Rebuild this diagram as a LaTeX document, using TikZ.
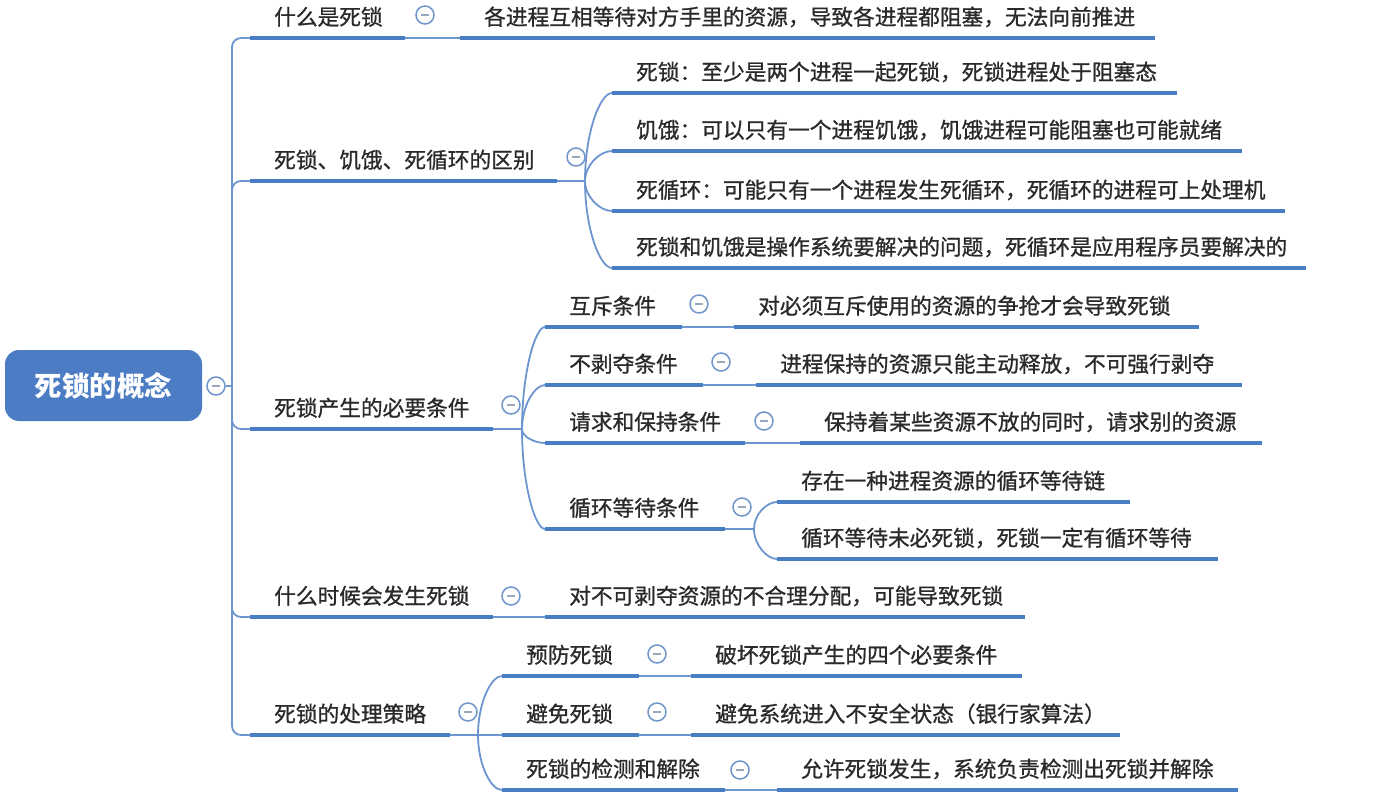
\documentclass[tikz,border=0pt]{standalone}
\usepackage{fontspec}
\newfontfamily\cjk{Noto Sans CJK SC}
\newfontfamily\cjkm{Noto Sans CJK SC}[FakeBold=0.9]
\definecolor{ublue}{HTML}{4A7EC4}
\definecolor{cblue}{HTML}{6D95CF}
\definecolor{rootblue}{HTML}{4C7DC4}
\definecolor{fblue}{HTML}{7096CC}
\definecolor{fgray}{HTML}{9AA8BE}
\definecolor{txt}{HTML}{2A2A2A}
\newcommand\mtopic[5]{%
  \coordinate (#1a) at (#2,#4);
  \coordinate (#1b) at (#3,#4);
  \draw[uline] (#1a) -- (#1b);
  \node[topic] (#1) at (#2+24,#4-13) {#5};
}
\begin{document}
\begin{tikzpicture}[x=1pt,y=-1pt,
  uline/.style={draw=ublue, line width=4.8pt},
  conn/.style={draw=cblue, line width=1.8pt},
  topic/.style={anchor=base west, inner sep=0pt, text=txt, font=\cjkm\fontsize{21.7}{26}\selectfont},
  fold/.style={circle, draw=fblue, line width=1.5pt, fill=white, minimum size=18pt, inner sep=0pt,
    path picture={\draw[line width=1.6pt, draw=fgray] ([xshift=-4pt]path picture bounding box.center) -- ([xshift=4pt]path picture bounding box.center);}},
  rootbox/.style={rectangle, rounded corners=14pt, fill=rootblue, text=white, minimum width=197pt, minimum height=71pt, inner sep=0pt, font=\cjk\bfseries\fontsize{27.5}{30}\selectfont}]
\useasboundingbox (0,0) rectangle (1377,800);
\fill[white] (0,0) rectangle (1377,800);

% coordinates for junctions
\coordinate (T) at (232,386);
\coordinate (B2) at (585,181);
\coordinate (B3) at (522,429);
\coordinate (B34) at (754,529);
\coordinate (B5) at (478,735);

% topics (underline + text)
\mtopic{L1}{250}{405}{38}{什么是死锁}
\mtopic{D1}{460}{1155}{38}{各进程互相等待对方手里的资源，导致各进程都阻塞，无法向前推进}
\mtopic{L2}{250}{557}{181}{死锁、饥饿、死循环的区别}
\mtopic{D21}{612}{1177}{93}{死锁：至少是两个进程一起死锁，死锁进程处于阻塞态}
\mtopic{D22}{612}{1242}{151}{饥饿：可以只有一个进程饥饿，饥饿进程可能阻塞也可能就绪}
\mtopic{D23}{612}{1285}{211}{死循环：可能只有一个进程发生死循环，死循环的进程可上处理机}
\mtopic{D24}{612}{1306}{268}{死锁和饥饿是操作系统要解决的问题，死循环是应用程序员要解决的}
\mtopic{L3}{250}{493}{429}{死锁产生的必要条件}
\mtopic{C31}{545}{682}{327}{互斥条件}
\mtopic{D31}{734}{1199}{327}{对必须互斥使用的资源的争抢才会导致死锁}
\mtopic{C32}{545}{703}{385}{不剥夺条件}
\mtopic{D32}{756}{1242}{385}{进程保持的资源只能主动释放，不可强行剥夺}
\mtopic{C33}{545}{745}{443}{请求和保持条件}
\mtopic{D33}{800}{1262}{443}{保持着某些资源不放的同时，请求别的资源}
\mtopic{C34}{545}{725}{529}{循环等待条件}
\mtopic{D341}{777}{1130}{502}{存在一种进程资源的循环等待链}
\mtopic{D342}{777}{1218}{559}{循环等待未必死锁，死锁一定有循环等待}
\mtopic{L4}{250}{493}{617}{什么时候会发生死锁}
\mtopic{D4}{545}{1025}{617}{对不可剥夺资源的不合理分配，可能导致死锁}
\mtopic{L5}{250}{450}{735}{死锁的处理策略}
\mtopic{C51}{502}{639}{676}{预防死锁}
\mtopic{D51}{691}{1022}{676}{破坏死锁产生的四个必要条件}
\mtopic{C52}{502}{639}{735}{避免死锁}
\mtopic{D52}{691}{1120}{735}{避免系统进入不安全状态（银行家算法）}
\mtopic{C53}{502}{725}{790}{死锁的检测和解除}
\mtopic{D53}{777}{1238}{790}{允许死锁发生，系统负责检测出死锁并解除}

% root
\node[rootbox] (root) at (103.5,385.5) {死锁的概念};
\node[fold] (F0) at (216,386) {};

% trunk connectors
\draw[conn] (F0) -- (T);
\draw[conn, rounded corners=9pt] (T) |- (L1a);
\draw[conn, rounded corners=9pt] (T) |- (L2a);
\draw[conn, rounded corners=9pt] (T) |- (L3a);
\draw[conn, rounded corners=9pt] (T) |- (L4a);
\draw[conn, rounded corners=9pt] (T) |- (L5a);

% single links
\draw[conn] (L1b) -- (D1a);
\draw[conn] (C31b) -- (D31a);
\draw[conn] (C32b) -- (D32a);
\draw[conn] (C33b) -- (D33a);
\draw[conn] (L4b) -- (D4a);
\draw[conn] (C51b) -- (D51a);
\draw[conn] (C52b) -- (D52a);
\draw[conn] (C53b) -- (D53a);

% fan: 区别
\draw[conn] (L2b) -- (B2);
\draw[conn] (B2) .. controls +(0,-48) and +(-12,0) .. (D21a);
\draw[conn] (B2) .. controls +(0,-16) and +(-12,0) .. (D22a);
\draw[conn] (B2) .. controls +(0,16) and +(-12,0) .. (D23a);
\draw[conn] (B2) .. controls +(0,48) and +(-12,0) .. (D24a);

% fan: 必要条件
\draw[conn] (L3b) -- (B3);
\draw[conn] (B3) .. controls +(0,-56) and +(-10,0) .. (C31a);
\draw[conn] (B3) .. controls +(0,-24) and +(-10,0) .. (C32a);
\draw[conn] (B3) .. controls +(0,8) and +(-10,0) .. (C33a);
\draw[conn] (B3) .. controls +(0,55) and +(-10,0) .. (C34a);

% fan: 循环等待
\draw[conn] (C34b) -- (B34);
\draw[conn] (B34) .. controls +(0,-15) and +(-10,0) .. (D341a);
\draw[conn] (B34) .. controls +(0,16) and +(-10,0) .. (D342a);

% fan: 处理策略
\draw[conn] (L5b) -- (B5);
\draw[conn] (B5) .. controls +(0,-32) and +(-11,0) .. (C51a);
\draw[conn] (B5) -- (C52a);
\draw[conn] (B5) .. controls +(0,30) and +(-11,0) .. (C53a);

% fold buttons
\node[fold] (F1) at (425,15) {};
\node[fold] (F2) at (576,157) {};
\node[fold] (F3) at (511,405) {};
\node[fold] (F31) at (699,304) {};
\node[fold] (F32) at (721,362) {};
\node[fold] (F33) at (764,421) {};
\node[fold] (F34) at (742,507) {};
\node[fold] (F4) at (511,596) {};
\node[fold] (F5) at (468,712) {};
\node[fold] (F51) at (657,654) {};
\node[fold] (F52) at (657,712) {};
\node[fold] (F53) at (740,770) {};
\end{tikzpicture}
\end{document}
